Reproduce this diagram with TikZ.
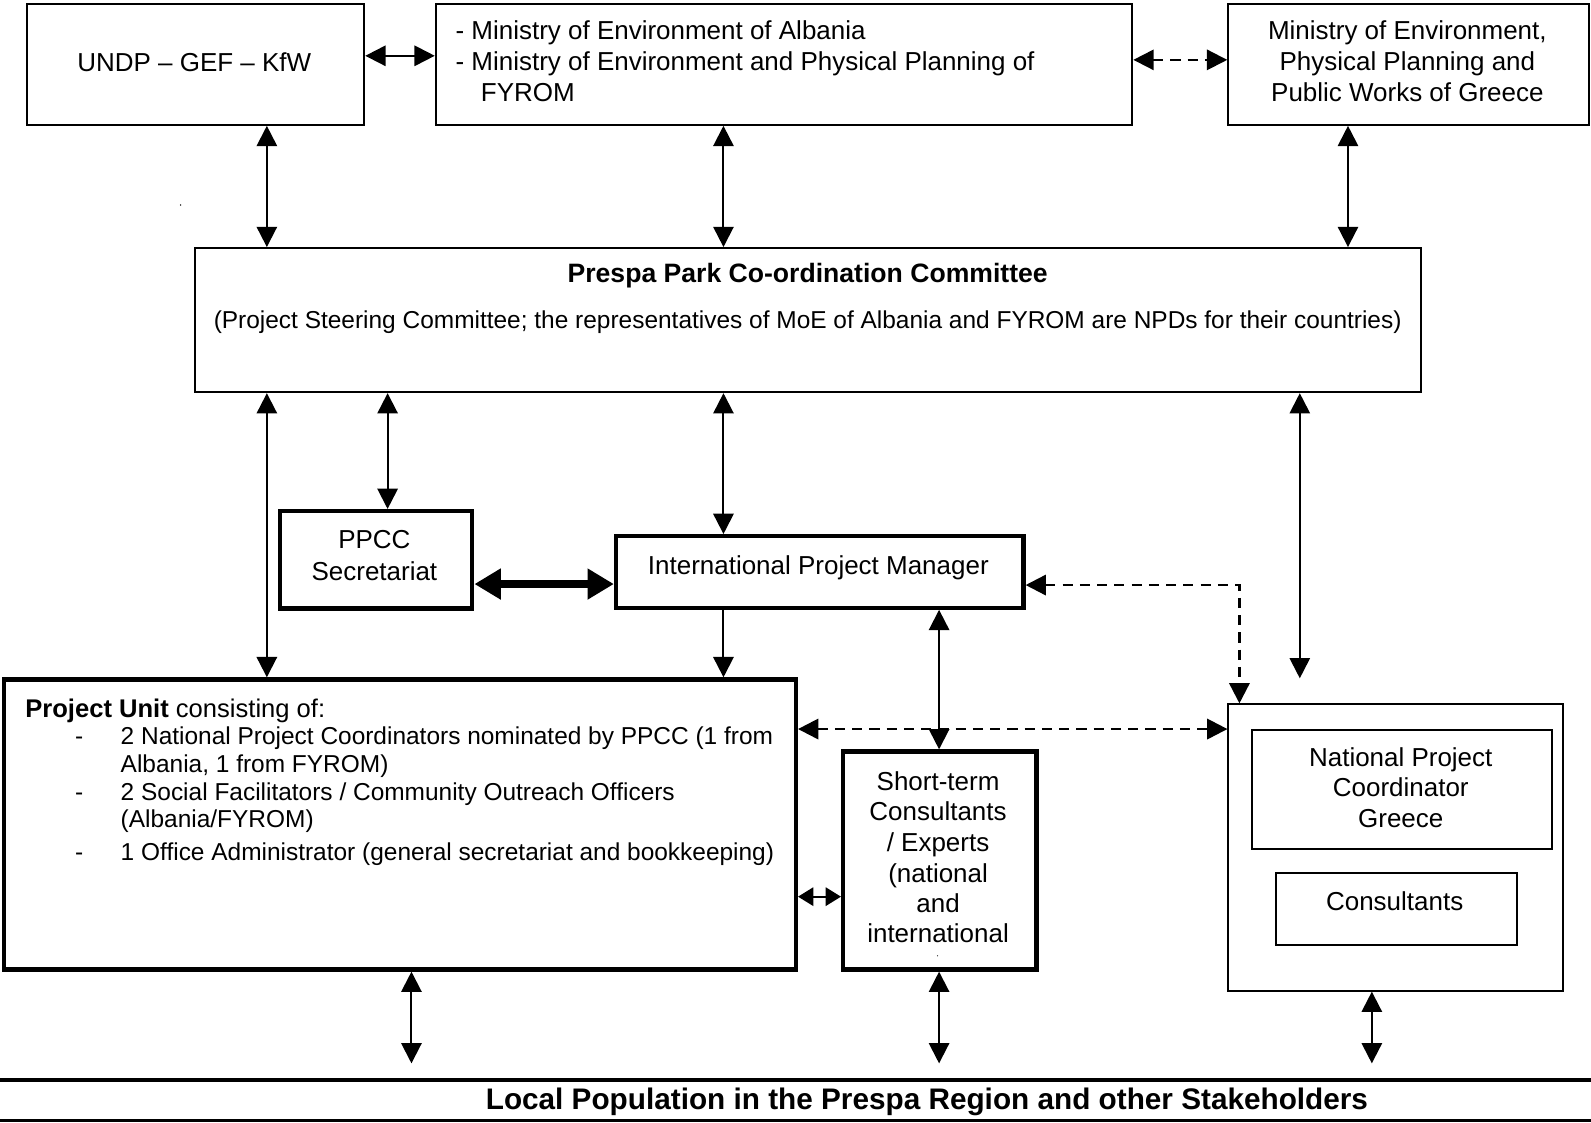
\documentclass[tikz,border=0pt]{standalone}
\usepackage{fontspec}
\setmainfont{Liberation Sans}
\usetikzlibrary{arrows.meta}
\begin{document}
\begin{tikzpicture}[x=0.5pt,y=-0.5pt,
  >={Triangle[length=10pt,width=10pt]},
  thinbox/.style={draw,line width=1pt,inner sep=0pt,outer sep=0.5pt},
  thickbox/.style={draw,line width=2.1pt,inner sep=0pt,outer sep=1.05pt},
  txt/.style={inner sep=0pt,outer sep=0pt,font=\fontsize{12.8}{14}\selectfont},
  stxt/.style={inner sep=0pt,outer sep=0pt,font=\fontsize{12.05}{14}\selectfont},
  btxt/.style={inner sep=0pt,outer sep=0pt,font=\fontsize{13.1}{14}\selectfont\bfseries},
  bandtxt/.style={inner sep=0pt,outer sep=0pt,font=\fontsize{14.65}{16}\selectfont\bfseries},
  arr/.style={line width=1pt,<->},
  arrone/.style={line width=1pt,->},
  darr/.style={line width=1.2pt,<->,dash pattern=on 5pt off 3.5pt},
  bigarr/.style={line width=3.5pt,arrows={Triangle[length=13pt,width=14.5pt]-Triangle[length=13pt,width=14.5pt]}},
  smallarr/.style={line width=1pt,arrows={Triangle[length=7.5pt,width=9pt]-Triangle[length=7.5pt,width=9pt]}}
]
\useasboundingbox (0,0) rectangle (1568,1106);

% ---------- boxes ----------
\node[thinbox,minimum width=166pt,minimum height=59.5pt] (undp) at (193,63.5) {};
\node[thinbox,minimum width=343.25pt,minimum height=59.5pt] (min) at (772.75,63.5) {};
\node[thinbox,minimum width=177.75pt,minimum height=59.5pt] (gre) at (1388.25,63.5) {};
\node[thinbox,minimum width=603.75pt,minimum height=71pt] (ppcc) at (796.25,315.5) {};
\node[thickbox,minimum width=94.7pt,minimum height=48pt] (sec) at (370.8,551.7) {};
\node[thickbox,minimum width=200.8pt,minimum height=35.25pt] (ipm) at (807.9,563.65) {};
\node[thickbox,minimum width=390.4pt,minimum height=142.95pt] (pu) at (394,812.55) {};
\node[thickbox,minimum width=95.3pt,minimum height=107.45pt] (st) at (926.2,848.05) {};
\node[thinbox,minimum width=164.65pt,minimum height=141.05pt] (gbox) at (1375.35,835.25) {};
\node[thinbox,minimum width=148.15pt,minimum height=58.45pt] (npc) at (1381.85,778.25) {};
\node[thinbox,minimum width=118.85pt,minimum height=35.7pt] (cons) at (1376.45,895.7) {};

% ---------- texts ----------
\node[txt,anchor=base] (t-undp) at (191.5,70) {UNDP – GEF – KfW};
\node[txt,anchor=base west] (t-min1) at (449,39) {- Ministry of Environment of Albania};
\node[txt,anchor=base west] (t-min2) at (449,69.5) {- Ministry of Environment and Physical Planning of};
\node[txt,anchor=base west] (t-min3) at (474,100) {FYROM};
\node[txt,anchor=base] (t-gre1) at (1387,39) {Ministry of Environment,};
\node[txt,anchor=base] (t-gre2) at (1387,69.5) {Physical Planning and};
\node[txt,anchor=base] (t-gre3) at (1387,100) {Public Works of Greece};
\node[btxt,anchor=base] (t-ppcc1) at (796,278) {Prespa Park Co-ordination Committee};
\node[stxt,anchor=base] (t-ppcc2) at (796,324) {(Project Steering Committee; the representatives of MoE of Albania and FYROM are NPDs for their countries)};
\node[txt,anchor=base] (t-sec1) at (369,541) {PPCC};
\node[txt,anchor=base] (t-sec2) at (369,572) {Secretariat};
\node[txt,anchor=base] (t-ipm) at (806.5,566) {International Project Manager};
\node[txt,anchor=base west,font=\fontsize{12.6}{14}\selectfont] (t-pu0) at (25,707) {\textbf{Project Unit} consisting of:};
\node[stxt,anchor=base west] (t-d1) at (74,734) {-};
\node[stxt,anchor=base west] (t-pu1) at (119,734) {2 National Project Coordinators nominated by PPCC (1 from};
\node[stxt,anchor=base west] (t-pu2) at (119,761) {Albania, 1 from FYROM)};
\node[stxt,anchor=base west] (t-d2) at (74,789) {-};
\node[stxt,anchor=base west] (t-pu3) at (119,789) {2 Social Facilitators / Community Outreach Officers};
\node[stxt,anchor=base west] (t-pu4) at (119,816) {(Albania/FYROM)};
\node[stxt,anchor=base west] (t-d3) at (74,848) {-};
\node[stxt,anchor=base west] (t-pu5) at (119,848) {1 Office Administrator (general secretariat and bookkeeping)};
\node[txt,anchor=base] (t-st1) at (924.5,779) {Short-term};
\node[txt,anchor=base] (t-st2) at (924.5,809) {Consultants};
\node[txt,anchor=base] (t-st3) at (924.5,839) {/ Experts};
\node[txt,anchor=base] (t-st4) at (924.5,870) {(national};
\node[txt,anchor=base] (t-st5) at (924.5,899) {and};
\node[txt,anchor=base] (t-st6) at (924.5,929) {international};
\node[txt,anchor=base] (t-npc1) at (1380.5,755) {National Project};
\node[txt,anchor=base] (t-npc2) at (1380.5,785) {Coordinator};
\node[txt,anchor=base] (t-npc3) at (1380.5,816) {Greece};
\node[txt,anchor=base] (t-cons) at (1374.5,897) {Consultants};
\node[bandtxt,anchor=base] (t-band) at (913.5,1093) {Local Population in the Prespa Region and other Stakeholders};
\fill (178,202) circle (0.8);
\fill (924,942) circle (0.6);

% ---------- bottom band ----------
\draw[line width=1.6pt] (0,1064.4) -- (1568,1064.4);
\draw[line width=1.6pt] (0,1104) -- (1568,1104);

% ---------- helper coordinates ----------
\coordinate (xa) at (263,0);
\coordinate (xb) at (382,0);
\coordinate (xc) at (713,0);
\coordinate (xd) at (1328.5,0);
\coordinate (xe) at (1281,0);
\coordinate (xf) at (925.5,0);
\coordinate (xg) at (405.5,0);
\coordinate (xh) at (1352,0);
\coordinate (xi) at (1221.5,0);
\coordinate (ya) at (0,55);
\coordinate (yb) at (0,59);
\coordinate (yc) at (0,575.6);
\coordinate (yd) at (0,576.6);
\coordinate (ye) at (0,718.5);
\coordinate (yf) at (0,883.7);
\coordinate (end1) at (1281,668.5);
\coordinate (end2) at (405.5,1048);
\coordinate (end3) at (925.5,1048);
\coordinate (end4) at (1352,1048);

% ---------- connectors ----------
\draw[arr] (undp.east |- ya) -- (min.west |- ya);
\draw[darr,line width=1pt] (min.east |- yb) -- (gre.west |- yb);
\draw[arr] (undp.south -| xa) -- (ppcc.north -| xa);
\draw[arr] (min.south -| xc) -- (ppcc.north -| xc);
\draw[arr] (gre.south -| xd) -- (ppcc.north -| xd);
\draw[arr] (ppcc.south -| xa) -- (pu.north -| xa);
\draw[arr] (ppcc.south -| xb) -- (sec.north -| xb);
\draw[arr] (ppcc.south -| xc) -- (ipm.north -| xc);
\draw[arr] (ppcc.south -| xe) -- (end1);
\draw[bigarr] (sec.east |- yc) -- (ipm.west |- yc);
\draw[arrone] (ipm.south -| xc) -- (pu.north -| xc);
\draw[arr] (ipm.south -| xf) -- (st.north -| xf);
\draw[darr] (ipm.east |- yd) -| (gbox.north -| xi);
\draw[darr] (pu.east |- ye) -- (gbox.west |- ye);
\draw[smallarr] (pu.east |- yf) -- (st.west |- yf);
\draw[arr] (pu.south -| xg) -- (end2);
\draw[arr] (st.south -| xf) -- (end3);
\draw[arr] (gbox.south -| xh) -- (end4);
\end{tikzpicture}
\end{document}
